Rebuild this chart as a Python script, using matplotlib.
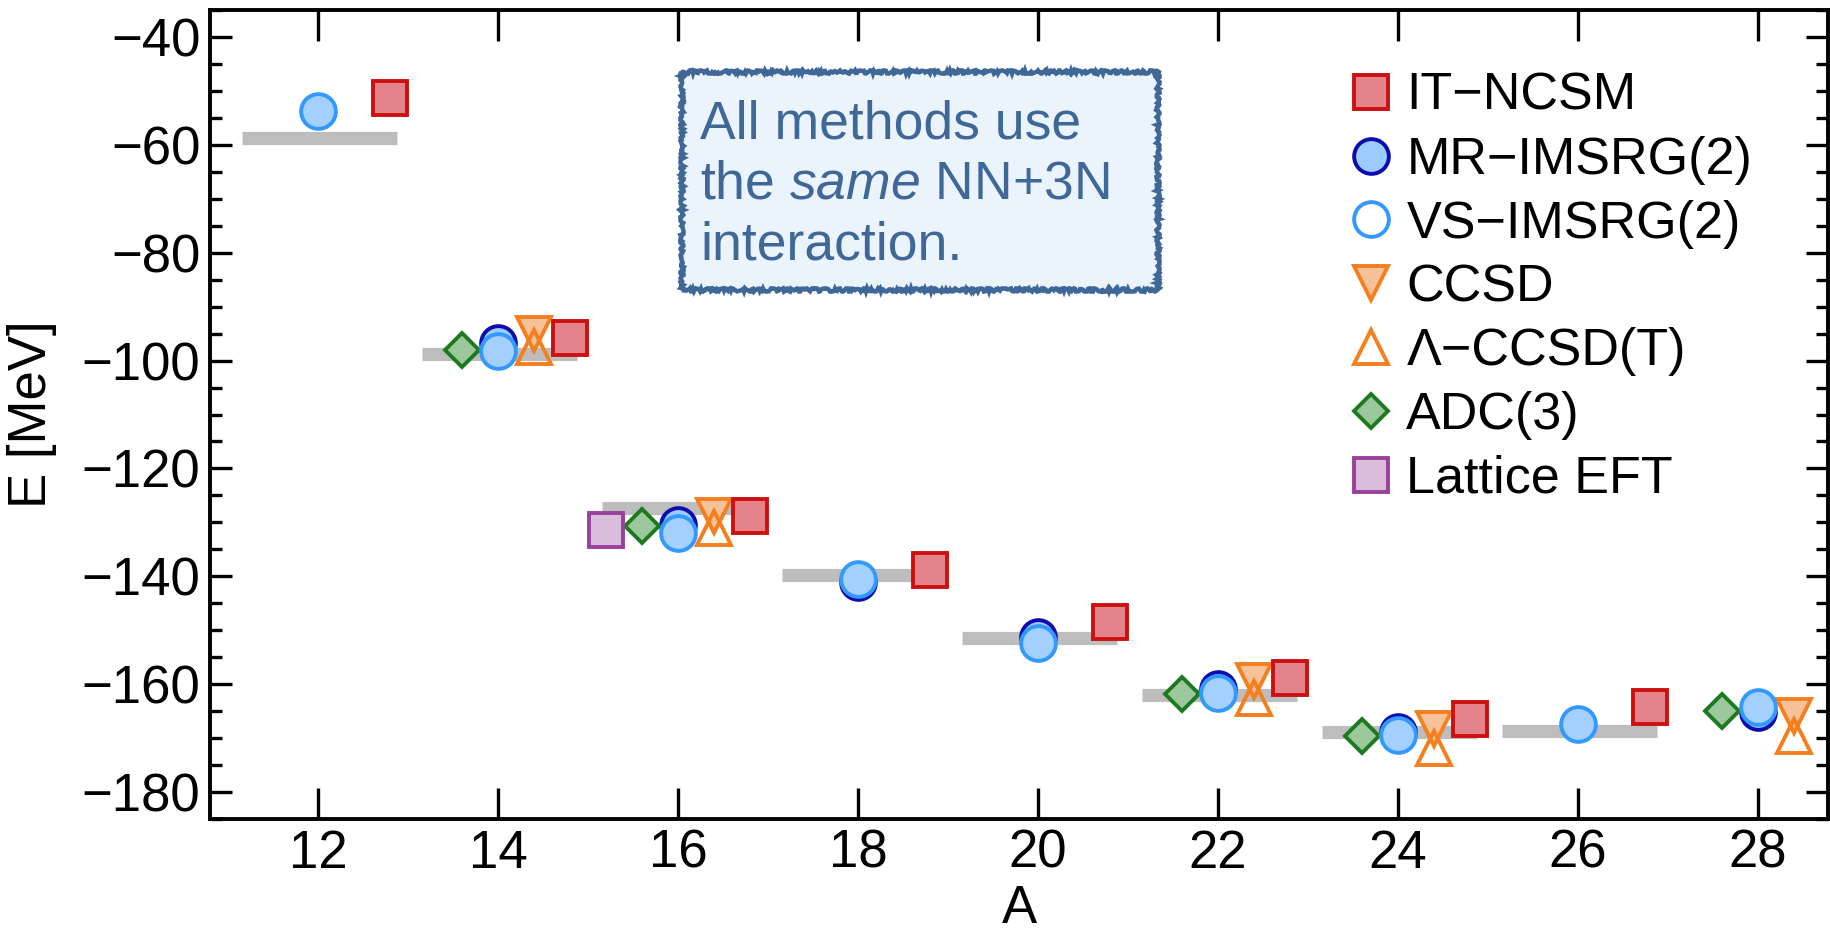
import matplotlib
matplotlib.use('Agg')
import matplotlib.pyplot as plt
import numpy as np
from matplotlib.lines import Line2D
from matplotlib.patches import Rectangle
from matplotlib.ticker import MultipleLocator

plt.rcParams['font.family'] = ['Liberation Sans', 'DejaVu Sans']
plt.rcParams['mathtext.fontset'] = 'custom'
plt.rcParams['mathtext.rm'] = 'Liberation Sans'
plt.rcParams['mathtext.it'] = 'Liberation Sans:italic'

# ground-state energies along the oxygen chain [MeV]
exp_A = [12, 14, 16, 18, 20, 22, 24, 26]
exp_E = [-58.7, -98.7, -127.4, -139.8, -151.4, -162.0, -168.8, -168.6]

itncsm_A = [12, 14, 16, 18, 20, 22, 24, 26]
itncsm_E = [-51.3, -95.8, -128.8, -138.9, -148.4, -158.8, -166.4, -164.3]

mr_A = [14, 16, 18, 20, 22, 24, 28]
mr_E = [-96.8, -130.4, -141.0, -151.3, -160.9, -168.8, -165.2]

vs_A = [12, 14, 16, 18, 20, 22, 24, 26, 28]
vs_E = [-53.8, -98.2, -132.0, -140.5, -152.4, -161.7, -169.4, -167.4, -164.2]

cc_A = [14, 16, 22, 24, 28]
ccsd_E = [-95.0, -128.9, -159.4, -168.3, -165.9]
lccsdt_E = [-97.5, -131.1, -162.6, -171.9, -169.6]

adc_A = [14, 16, 22, 24, 28]
adc_E = [-98.0, -130.7, -161.9, -169.6, -164.9]

lattice_A = [16]
lattice_E = [-131.5]

styles = {
    'IT\u2212NCSM':      dict(marker='s', ms=24, mfc='#e5838a', mec='#cc1010'),
    'MR\u2212IMSRG(2)':  dict(marker='o', ms=25, mfc='#9ccbff', mec='#0c0cb0'),
    'VS\u2212IMSRG(2)':  dict(marker='o', ms=25, mfc='#a3d0ff', mec='#3399ff'),
    'CCSD':              dict(marker='v', ms=25, mfc='#f7c29a', mec='#f57f1f'),
    '\u039b\u2212CCSD(T)': dict(marker='^', ms=25, mfc='none', mec='#f57f1f'),
    'ADC(3)':            dict(marker='D', ms=17.5, mfc='#9dc89d', mec='#1e7a1e'),
    'Lattice EFT':       dict(marker='s', ms=24, mfc='#dabcdb', mec='#9b409b'),
}
labels = list(styles)

fig = plt.figure(figsize=(18.3, 9.47), dpi=100)
ax = fig.add_axes([0.1148, 0.1352, 0.8841, 0.8542])

# experiment as grey bars
exp_A = np.array(exp_A)
ax.hlines(exp_E, exp_A - 0.84, exp_A + 0.88, colors='#bdbdbd', lw=9.5, zorder=1)

def draw(x, y, key, z):
    ax.plot(x, y, ls='none', mew=2.8, zorder=z, **styles[key])

draw(np.array(mr_A), mr_E, labels[1], 3)
draw(np.array(vs_A), vs_E, labels[2], 4)
draw(np.array(adc_A) - 0.4, adc_E, labels[5], 3)
draw(np.array(cc_A) + 0.4, ccsd_E, labels[3], 3)
draw(np.array(cc_A) + 0.4, lccsdt_E, labels[4], 4)
draw(np.array(itncsm_A) + 0.8, itncsm_E, labels[0], 5)
draw(np.array(lattice_A) - 0.8, lattice_E, labels[6], 5)

ax.set_xlim(10.8, 28.78)
ax.set_ylim(-185, -35)
ax.set_xticks(range(12, 29, 2))
ax.set_yticks(range(-180, -39, 20))
ax.yaxis.set_minor_locator(MultipleLocator(5))
ax.tick_params(which='both', direction='in', top=True, right=True,
               labelsize=38, width=2.4, pad=7)
ax.tick_params(axis='x', which='major', length=22)
ax.tick_params(axis='x', which='minor', bottom=False, top=False)
ax.tick_params(axis='y', which='major', length=16)
ax.tick_params(axis='y', which='minor', length=8.5)
for sp in ax.spines.values():
    sp.set_linewidth(2.8)

ax.set_xlabel('A', fontsize=38, labelpad=4)
ax.set_ylabel('E [MeV]', fontsize=38, labelpad=18)

# legend: open VS circle, filled markers otherwise
handles = []
for key in labels:
    st = dict(styles[key])
    if key == labels[2]:
        st['mfc'] = 'none'
    handles.append(Line2D([], [], ls='none', mew=2.8, **st))
ax.legend(handles, labels, loc='upper left', bbox_to_anchor=(0.7046, 0.9235),
          frameon=False, fontsize=37.5, borderpad=0, handlelength=0.8,
          handletextpad=0.28, labelspacing=0.285, borderaxespad=0)

# note box with a hand-drawn edge
box = Rectangle((0.2917, 0.654), 0.2942, 0.2694, transform=ax.transAxes,
                fc='#ebf3fd', ec='#3f6797', lw=3.2, zorder=6)
box.set_sketch_params(scale=1.6, length=5, randomness=12)
ax.add_patch(box)
note_color = '#3f6797'
for ytxt, line in [(0.8418, 'All methods use'),
                   (0.7676, r'the $\mathit{same}$ NN+3N'),
                   (0.691, 'interaction.')]:
    ax.text(0.3028, ytxt, line, transform=ax.transAxes, fontsize=38.5,
            color=note_color, va='baseline', ha='left', zorder=7)

fig.savefig('out.png', dpi=100, facecolor='white')
